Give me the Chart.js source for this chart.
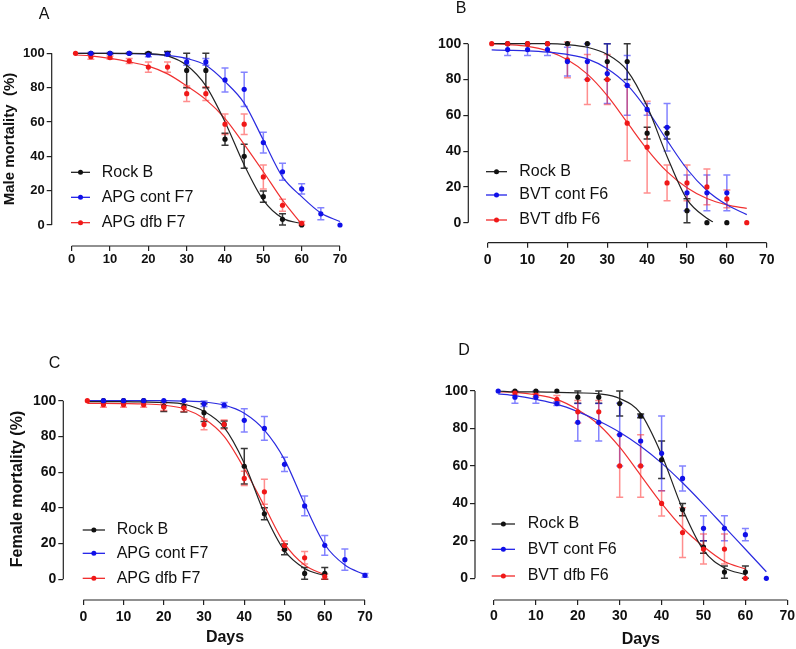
<!DOCTYPE html>
<html lang="en">
<head>
    <meta charset="UTF-8">
    <title>Mortality curves</title>
    <script src="https://cdn.jsdelivr.net/npm/chart.js"></script>
    <style>
        body { margin: 0; background: #fff; overflow: hidden; }
        .panel { position: absolute; }
    </style>
</head>
<body>
    <canvas id="chartA" class="panel" style="left:0;top:0" width="400" height="320"></canvas>
    <canvas id="chartB" class="panel" style="left:400px;top:0" width="396" height="320"></canvas>
    <canvas id="chartC" class="panel" style="left:0;top:320px" width="400" height="329"></canvas>
    <canvas id="chartD" class="panel" style="left:400px;top:320px" width="400" height="329"></canvas>

    <script>
        // sampling days and axis ticks
        const days = [1, 5, 10, 15, 20, 25, 30, 35, 40, 45, 50, 55, 60, 65, 70];
        const fitDays = [1, 5, 10, 15, 20, 25, 30, 35, 40, 45, 50, 55, 60, 65, 70];
        const xTicks = [0, 10, 20, 30, 40, 50, 60, 70];
        const yTicks = [0, 20, 40, 60, 80, 100];

        // A - male, APG
        const aRock = [null, 100, 100, 100, 100, 100, 90, 90, 50, 40, 16.5, 3.3, 0, null, null];
        const aRockErr = [0, 0, 0, 0, 0.5, 1, 10, 10, 3.5, 7, 3.3, 3.3, 0, 0, 0];
        const aCont = [null, 100, 100, 100, 99, 99.5, 95, 95, 84.5, 79, 48, 31, 21, 6.5, 0];
        const aContErr = [0, 0.5, 0.5, 0.5, 1, 1, 2, 2, 7, 10, 6, 5, 3, 3.5, 0];
        const aDfb = [100, 98, 97.5, 95.5, 92, 92, 76.5, 76.5, 58.7, 58.7, 28, 11.5, 1, null, null];
        const aDfbErr = [0, 1.5, 1, 1.5, 3, 3, 4.5, 4, 6, 6, 7, 3.5, 1, 0, 0];
        const aRockFit = [100, 100, 100, 100, 99.8, 98.5, 93, 81, 60, 35, 14.5, 4, 0.8, null, null];
        const aContFit = [100, 100, 100, 99.8, 99.5, 98.8, 97, 93, 83.5, 71, 49.5, 28, 16.5, 7, 2];
        const aDfbFit = [99, 98.5, 97, 95, 92.5, 88, 81, 73, 62, 47, 31, 14.5, 0.5, null, null];

        // B - male, BVT
        const bRock = [null, 100, 100, 100, 100, 100, 90, 90, 50, 50, 6.7, 0, 0, null, null];
        const bRockErr = [0, 0, 0, 0, 0, 0, 10, 10, 3.3, 3.3, 6.7, 0, 0, 0, 0];
        const bCont = [null, 96.7, 96.7, 96.7, 90, 90, 83.3, 76.7, 63.3, 53.3, 16.7, 16.7, 16.7, null, null];
        const bContErr = [0, 3.3, 3.3, 3.3, 8, 10, 16.7, 16.7, 3.3, 13.3, 10, 10, 10, 0, 0];
        const bDfb = [100, 100, 100, 100, 91, 80, 80, 55.6, 42.2, 22.2, 22.2, 20, 13.3, 0, null];
        const bDfbErr = [0, 0, 0, 0, 10, 14, 14, 21, 25.6, 10, 10, 10, 5, 0, 0];
        const bRockFitDays = [1, 5, 10, 15, 20, 25, 30, 35, 40, 45, 50, 55, 56.5];
        const bRockFit = [100, 100, 100, 100, 99.5, 98, 94, 85, 65, 37, 13, 2.5, 0.5];
        const bContFit = [96.5, 96.3, 96, 95.3, 94, 91.5, 86, 77, 63, 46, 30, 18, 10, 4.5, null];
        const bDfbFit = [100, 99.5, 98.5, 96, 91, 83, 71, 56, 41, 28.5, 19.5, 13.5, 10, 8, null];

        // C - female, APG
        const cRock = [null, 100, 100, 100, 97, 96.7, 93.3, 86.7, 63.3, 36.7, 16.7, 3.3, 3.3, null, null];
        const cRockErr = [0, 0, 0, 0, 3, 3, 5, 2, 10, 3.3, 3, 3.3, 3.3, 0, 0];
        const cCont = [null, 100, 100, 100, 100, 100, 98.3, 97.5, 89, 84.5, 64.4, 41.1, 19, 11, 2.2];
        const cContErr = [0, 0, 0, 0, 0, 0, 1.5, 1.5, 6.5, 6.7, 4, 5.5, 5.5, 6, 1];
        const cDfb = [100, 97.8, 97.8, 97.8, 96.5, 96, 86.7, 86.7, 56.5, 49, 18.9, 12, 1.5, null, null];
        const cDfbErr = [0, 1.5, 1.5, 1.5, 2, 2, 3, 2.5, 4, 7, 2.5, 3.5, 1.5, 0, 0];
        const cRockFit = [99.5, 99.5, 99.5, 99.3, 99, 98, 94, 85, 65, 37, 16, 6, 2, null, null];
        const cContFit = [100, 100, 100, 100, 100, 99.8, 99.3, 97.5, 93, 83.5, 67, 42, 19.5, 8, 2.5];
        const cDfbFit = [98.5, 98.5, 98.4, 98.2, 97.5, 95.5, 90, 80, 62, 41, 20, 8, 2.5, null, null];

        // D - female, BVT
        const dRock = [null, 100, 100, 100, 96.7, 96.7, 93.3, 86.7, 63.3, 36.7, 16.7, 3.3, 3.3, null, null];
        const dRockErr = [0, 0, 0, 0, 3.3, 3.3, 6.7, 1, 10, 3.3, 3.3, 3.3, 3.3, 0, 0];
        const dCont = [100, 96.7, 96.7, 93.3, 83.3, 83.3, 76.7, 73.3, 66.7, 53.3, 26.7, 26.7, 23.3, 0, null];
        const dContErr = [0, 3.3, 3.3, 1, 10, 10, 16.7, 13.3, 20, 6.7, 6.7, 6.7, 3.3, 0, 0];
        const dDfb = [null, 98.9, 97.8, 95.6, 88.9, 88.9, 60, 60, 40, 24.4, 15.6, 15.6, 0, null, null];
        const dDfbErr = [0, 1, 1, 2, 6, 6, 16.7, 16.7, 6.7, 13.3, 8, 8, 0, 0, 0];
        const dRockFit = [100, 99.5, 99.5, 99.3, 99, 98.5, 96, 88, 66, 37, 15, 5.5, 2, null, null];
        const dContFit = [98.5, 97.5, 95.5, 93, 89, 84, 78, 70.5, 61.5, 51, 39.5, 27.5, 15.5, 3.5, null];
        const dDfbFit = [99.5, 99.3, 98, 95.5, 90, 82, 70, 55, 40, 27, 17, 9, 5, null, null];

        const FONT = 'Liberation Sans, Arial, sans-serif';
        // order: lower value is drawn on top
        const COLORS = {
            black: { point: '#111', line: '#222', err: 'rgba(20,20,20,0.85)', order: 2 },
            blue:  { point: '#1010e8', line: '#2a2ae0', err: 'rgba(30,30,255,0.55)', order: 0 },
            red:   { point: '#f01818', line: '#f03030', err: 'rgba(255,30,30,0.5)', order: 1 }
        };

        function pointSet(label, ys, errs, c) {
            const data = [];
            days.forEach((d, i) => {
                if (ys[i] != null) data.push({ x: d, y: ys[i], e: errs[i] });
            });
            return {
                label, data, showLine: false, order: COLORS[c].order, clip: false,
                pointRadius: 2.6, pointHoverRadius: 2.6, borderWidth: 0,
                backgroundColor: COLORS[c].point, borderColor: COLORS[c].point,
                errColor: COLORS[c].err
            };
        }

        function fitSet(xs, ys, c) {
            const data = [];
            xs.forEach((d, i) => {
                if (ys[i] != null) data.push({ x: d, y: ys[i] });
            });
            return {
                data, showLine: true, order: 5, clip: false,
                pointRadius: 0, borderWidth: 1.2, borderColor: COLORS[c].line,
                cubicInterpolationMode: 'monotone', fill: false
            };
        }

        // error bars with caps, drawn below the points
        const errorBars = {
            id: 'errorBars',
            beforeDatasetsDraw(chart) {
                const ctx = chart.ctx;
                const ys = chart.scales.y;
                chart.data.datasets.forEach((ds, di) => {
                    if (!ds.errColor) return;
                    const meta = chart.getDatasetMeta(di);
                    ctx.save();
                    ctx.strokeStyle = ds.errColor;
                    ctx.lineWidth = 1.5;
                    meta.data.forEach((el, i) => {
                        const p = ds.data[i];
                        if (!p.e) return;
                        const top = ys.getPixelForValue(p.y + p.e);
                        const bot = ys.getPixelForValue(p.y - p.e);
                        ctx.beginPath();
                        ctx.moveTo(el.x, top); ctx.lineTo(el.x, bot);
                        ctx.moveTo(el.x - 3.5, top); ctx.lineTo(el.x + 3.5, top);
                        ctx.moveTo(el.x - 3.5, bot); ctx.lineTo(el.x + 3.5, bot);
                        ctx.stroke();
                    });
                    ctx.restore();
                });
            }
        };

        // axis lines, panel letter, titles and legend
        const decor = {
            id: 'decor',
            afterDraw(chart, args, opts) {
                const ctx = chart.ctx;
                const xs = chart.scales.x, ys = chart.scales.y;
                const area = chart.chartArea;
                ctx.save();
                ctx.strokeStyle = '#222';
                ctx.lineWidth = 1.2;
                ctx.beginPath();
                ctx.moveTo(area.left, ys.getPixelForValue(100));
                ctx.lineTo(area.left, ys.getPixelForValue(0));
                ctx.moveTo(xs.getPixelForValue(0), area.bottom);
                ctx.lineTo(xs.getPixelForValue(70), area.bottom);
                ctx.stroke();

                ctx.fillStyle = '#111';
                ctx.textAlign = 'center';
                ctx.textBaseline = 'middle';
                ctx.font = '16px ' + FONT;
                ctx.fillText(opts.letter, opts.letterPos[0], opts.letterPos[1]);

                if (opts.yTitle) {
                    ctx.save();
                    ctx.translate(opts.yTitlePos[0], opts.yTitlePos[1]);
                    ctx.rotate(-Math.PI / 2);
                    ctx.font = 'bold ' + opts.yTitleSize + 'px ' + FONT;
                    ctx.fillText(opts.yTitle, 0, 0);
                    ctx.restore();
                }
                if (opts.xTitle) {
                    ctx.font = 'bold 16px ' + FONT;
                    ctx.fillText(opts.xTitle, opts.xTitlePos[0], opts.xTitlePos[1]);
                }

                // legend
                const lg = opts.legend;
                ctx.textAlign = 'left';
                ctx.font = '16px ' + FONT;
                chart.data.datasets.filter(d => d.label).forEach((ds, i) => {
                    const y = lg.rows[i];
                    ctx.strokeStyle = ds.borderColor;
                    ctx.lineWidth = 1.2;
                    ctx.beginPath();
                    ctx.moveTo(lg.x1, y); ctx.lineTo(lg.x2, y);
                    ctx.stroke();
                    ctx.fillStyle = ds.backgroundColor;
                    ctx.beginPath();
                    ctx.arc((lg.x1 + lg.x2) / 2, y, 2.5, 0, Math.PI * 2);
                    ctx.fill();
                    ctx.fillStyle = '#111';
                    ctx.fillText(ds.label, lg.tx, y);
                });
                ctx.restore();
            }
        };

        function makePanel(id, g, datasets, deco) {
            const xMin = -(g.x0 - g.left) / ((g.right - g.x0) / 70);
            const yMin = -(g.bottom - g.y0) / ((g.y0 - g.top) / 100);
            const canvas = document.getElementById(id);
            const xH = 40;
            const tickFont = { family: FONT, weight: 'bold', size: g.tick };
            return new Chart(canvas, {
                type: 'scatter',
                data: { datasets },
                options: {
                    responsive: false,
                    animation: false,
                    events: [],
                    layout: {
                        padding: {
                            left: 0, top: g.top,
                            right: canvas.width - g.right,
                            bottom: canvas.height - g.bottom - xH
                        }
                    },
                    plugins: { legend: { display: false }, tooltip: { enabled: false }, decor: deco },
                    scales: {
                        x: {
                            type: 'linear', min: xMin, max: 70,
                            afterBuildTicks: s => { s.ticks = xTicks.map(v => ({ value: v })); },
                            afterFit: s => { s.height = xH; },
                            border: { display: false },
                            grid: { drawOnChartArea: false, tickLength: 5, color: '#222', lineWidth: 1.2 },
                            ticks: { font: tickFont, color: '#111', padding: g.xPad, maxRotation: 0 }
                        },
                        y: {
                            min: yMin, max: 100,
                            afterBuildTicks: s => { s.ticks = yTicks.map(v => ({ value: v })); },
                            afterFit: s => { s.width = g.left; },
                            border: { display: false },
                            grid: { drawOnChartArea: false, tickLength: 5, color: '#222', lineWidth: 1.2 },
                            ticks: { font: tickFont, color: '#111', padding: 2 }
                        }
                    }
                },
                plugins: [errorBars, decor]
            });
        }

        makePanel('chartA',
            { left: 51.7, right: 340, top: 53.3, bottom: 246, x0: 71.7, y0: 225, tick: 13, xPad: 1 },
            [
                pointSet('Rock B', aRock, aRockErr, 'black'),
                pointSet('APG cont F7', aCont, aContErr, 'blue'),
                pointSet('APG dfb F7', aDfb, aDfbErr, 'red'),
                fitSet(fitDays, aRockFit, 'black'),
                fitSet(fitDays, aContFit, 'blue'),
                fitSet(fitDays, aDfbFit, 'red')
            ],
            {
                letter: 'A', letterPos: [44, 15],
                yTitle: 'Male mortality  (%)', yTitlePos: [10, 139], yTitleSize: 15,
                legend: { x1: 71, x2: 90, tx: 101.7, rows: [172.3, 197.3, 222.7] }
            });

        makePanel('chartB',
            { left: 68.3, right: 366.7, top: 43.7, bottom: 242.7, x0: 87.7, y0: 222.7, tick: 14, xPad: 4 },
            [
                pointSet('Rock B', bRock, bRockErr, 'black'),
                pointSet('BVT cont F6', bCont, bContErr, 'blue'),
                pointSet('BVT dfb F6', bDfb, bDfbErr, 'red'),
                fitSet(bRockFitDays, bRockFit, 'black'),
                fitSet(fitDays, bContFit, 'blue'),
                fitSet(fitDays, bDfbFit, 'red')
            ],
            {
                letter: 'B', letterPos: [61, 9],
                legend: { x1: 86, x2: 107, tx: 119.3, rows: [171.7, 195, 220] }
            });

        makePanel('chartC',
            { left: 63.3, right: 365, top: 80.7, bottom: 280, x0: 83.3, y0: 259.3, tick: 14, xPad: 4 },
            [
                pointSet('Rock B', cRock, cRockErr, 'black'),
                pointSet('APG cont F7', cCont, cContErr, 'blue'),
                pointSet('APG dfb F7', cDfb, cDfbErr, 'red'),
                fitSet(fitDays, cRockFit, 'black'),
                fitSet(fitDays, cContFit, 'blue'),
                fitSet(fitDays, cDfbFit, 'red')
            ],
            {
                letter: 'C', letterPos: [54.5, 44],
                yTitle: 'Female mortality (%)', yTitlePos: [18, 169], yTitleSize: 16,
                xTitle: 'Days', xTitlePos: [225, 318],
                legend: { x1: 82.7, x2: 105, tx: 116.7, rows: [210, 233.3, 258.3] }
            });

        makePanel('chartD',
            { left: 75, right: 387.3, top: 71, bottom: 280, x0: 94, y0: 258.3, tick: 14, xPad: 3 },
            [
                pointSet('Rock B', dRock, dRockErr, 'black'),
                pointSet('BVT cont F6', dCont, dContErr, 'blue'),
                pointSet('BVT dfb F6', dDfb, dDfbErr, 'red'),
                fitSet(fitDays, dRockFit, 'black'),
                fitSet(fitDays, dContFit, 'blue'),
                fitSet(fitDays, dDfbFit, 'red')
            ],
            {
                letter: 'D', letterPos: [64, 31],
                xTitle: 'Days', xTitlePos: [240.8, 320],
                legend: { x1: 91.7, x2: 115, tx: 127.7, rows: [204, 229.3, 256] }
            });
    </script>
</body>
</html>
